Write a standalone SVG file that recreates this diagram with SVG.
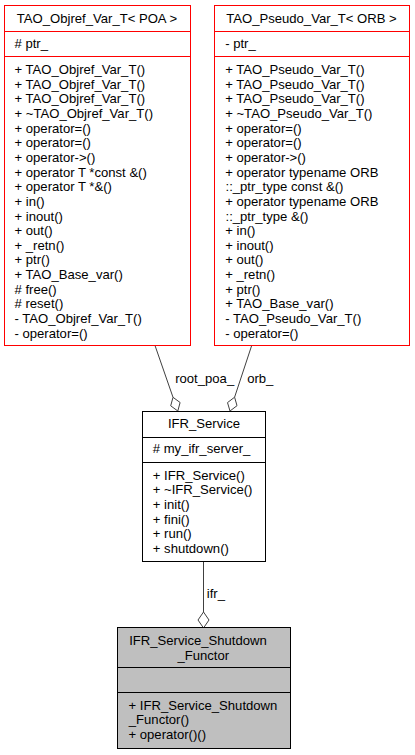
<svg xmlns="http://www.w3.org/2000/svg" width="415" height="755" viewBox="0 0 415 755">
<style>
text{font-family:"Liberation Sans",Arial,Helvetica,sans-serif;font-size:13.1px;fill:#000}
.c{text-anchor:middle}
.box{fill:#fff;stroke:#ff0000;stroke-width:1}
.sep{stroke:#ff0000;stroke-width:1}
.box2{fill:#fff;stroke:#000;stroke-width:1}
.box3{fill:#bfbfbf;stroke:#000;stroke-width:1}
.sepk{stroke:#000;stroke-width:1}
.edge{fill:none;stroke:#404040;stroke-width:1}
.dia{fill:#fff;stroke:#404040;stroke-width:1}
</style>
<rect width="415" height="755" fill="#fff"/>
<g id="connectors">
<path class="edge" d="M155,345.5 L173,397.3"/>
<polygon class="dia" points="173,397.3 180.1,402.5 177.8,411 170.7,405.8"/>
<path class="edge" d="M251.7,345.5 L234.6,397.2"/>
<polygon class="dia" points="234.6,397.2 237,405.7 230,411 227.5,402.6"/>
<path class="edge" d="M203.5,561.5 L203.5,612"/>
<polygon class="dia" points="203.5,612 209,620 203.5,628 198,620"/>
<text x="175.2" y="382.5">root_poa_</text>
<text x="247.2" y="382.5">orb_</text>
<text x="206.8" y="598">ifr_</text>
</g>
<g id="node_objref">
<rect class="box" x="4.5" y="5.5" width="186" height="340"/>
<line class="sep" x1="4.5" y1="31.5" x2="190.5" y2="31.5"/>
<line class="sep" x1="4.5" y1="56.5" x2="190.5" y2="56.5"/>
<text class="c" x="97" y="22.5">TAO_Objref_Var_T&lt; POA &gt;</text>
<text x="14.5" y="48">#  ptr_</text>
<text x="14.5" y="74">+  TAO_Objref_Var_T()</text>
<text x="14.5" y="88.65">+  TAO_Objref_Var_T()</text>
<text x="14.5" y="103.3">+  TAO_Objref_Var_T()</text>
<text x="14.5" y="117.95">+  ~TAO_Objref_Var_T()</text>
<text x="14.5" y="132.6">+  operator=()</text>
<text x="14.5" y="147.25">+  operator=()</text>
<text x="14.5" y="161.9">+  operator-&gt;()</text>
<text x="14.5" y="176.55">+  operator T *const &amp;()</text>
<text x="14.5" y="191.2">+  operator T *&amp;()</text>
<text x="14.5" y="205.85">+  in()</text>
<text x="14.5" y="220.5">+  inout()</text>
<text x="14.5" y="235.15">+  out()</text>
<text x="14.5" y="249.8">+  _retn()</text>
<text x="14.5" y="264.45">+  ptr()</text>
<text x="14.5" y="279.1">+  TAO_Base_var()</text>
<text x="14.5" y="293.75">#  free()</text>
<text x="14.5" y="308.4">#  reset()</text>
<text x="14.5" y="323.05">-  TAO_Objref_Var_T()</text>
<text x="14.5" y="337.7">-  operator=()</text>
</g>
<g id="node_pseudo">
<rect class="box" x="214.5" y="5.5" width="195" height="340"/>
<line class="sep" x1="214.5" y1="31.5" x2="409.5" y2="31.5"/>
<line class="sep" x1="214.5" y1="56.5" x2="409.5" y2="56.5"/>
<text class="c" x="311.5" y="22.5">TAO_Pseudo_Var_T&lt; ORB &gt;</text>
<text x="225.2" y="48">-  ptr_</text>
<text x="225.2" y="74">+  TAO_Pseudo_Var_T()</text>
<text x="225.2" y="88.65">+  TAO_Pseudo_Var_T()</text>
<text x="225.2" y="103.3">+  TAO_Pseudo_Var_T()</text>
<text x="225.2" y="117.95">+  ~TAO_Pseudo_Var_T()</text>
<text x="225.2" y="132.6">+  operator=()</text>
<text x="225.2" y="147.25">+  operator=()</text>
<text x="225.2" y="161.9">+  operator-&gt;()</text>
<text x="225.2" y="176.55">+  operator typename ORB</text>
<text x="225.5" y="191.2">::_ptr_type const &amp;()</text>
<text x="225.2" y="205.85">+  operator typename ORB</text>
<text x="225.5" y="220.5">::_ptr_type &amp;()</text>
<text x="225.2" y="235.15">+  in()</text>
<text x="225.2" y="249.8">+  inout()</text>
<text x="225.2" y="264.45">+  out()</text>
<text x="225.2" y="279.1">+  _retn()</text>
<text x="225.2" y="293.75">+  ptr()</text>
<text x="225.2" y="308.4">+  TAO_Base_var()</text>
<text x="225.2" y="323.05">-  TAO_Pseudo_Var_T()</text>
<text x="225.2" y="337.7">-  operator=()</text>
</g>
<g id="node_ifr_service">
<rect class="box2" x="142.5" y="411.5" width="123" height="150"/>
<line class="sepk" x1="142.5" y1="437.5" x2="265.5" y2="437.5"/>
<line class="sepk" x1="142.5" y1="462.5" x2="265.5" y2="462.5"/>
<text class="c" x="204" y="428">IFR_Service</text>
<text x="152.8" y="453">#  my_ifr_server_</text>
<text x="152.8" y="479.7">+  IFR_Service()</text>
<text x="152.8" y="494.3">+  ~IFR_Service()</text>
<text x="152.8" y="508.9">+  init()</text>
<text x="152.8" y="523.5">+  fini()</text>
<text x="152.8" y="538.1">+  run()</text>
<text x="152.8" y="552.7">+  shutdown()</text>
</g>
<g id="node_shutdown_functor">
<rect class="box3" x="117.5" y="627.5" width="173" height="121"/>
<line class="sepk" x1="117.5" y1="667.5" x2="290.5" y2="667.5"/>
<line class="sepk" x1="117.5" y1="692.5" x2="290.5" y2="692.5"/>
<text class="c" x="198" y="645.4">IFR_Service_Shutdown</text>
<text class="c" x="203.3" y="659.8">_Functor</text>
<text x="128.5" y="709.7">+  IFR_Service_Shutdown</text>
<text x="128.8" y="724.4">_Functor()</text>
<text x="128.5" y="739">+  operator()()</text>
</g>
</svg>
